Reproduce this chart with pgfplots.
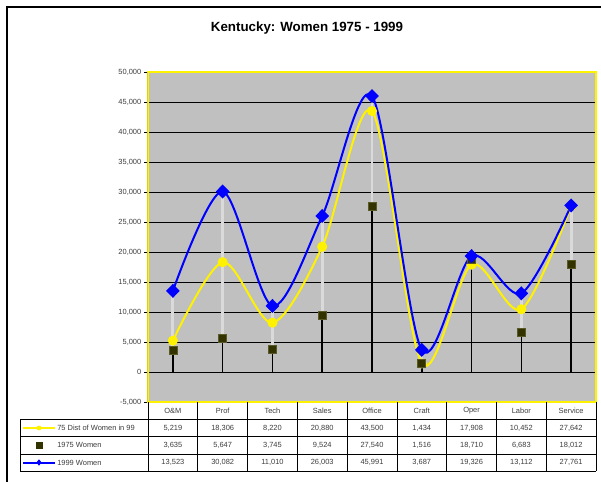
\documentclass[border=0pt]{standalone}
\usepackage{fontspec}
\setmainfont{Liberation Sans}
\usepackage{pgfplots}
\pgfplotsset{compat=1.18}
\definecolor{plotbg}{RGB}{192,192,192}
\definecolor{sqcol}{RGB}{51,51,0}
\definecolor{sqedge}{RGB}{90,90,40}
\definecolor{hlgray}{RGB}{218,218,218}
\definecolor{txtgray}{RGB}{60,60,60}
\begin{document}
\begin{tikzpicture}
\useasboundingbox (0,0) rectangle (450.75pt,-361.5pt);
\begin{axis}[
  at={(111pt,-301.5pt)}, anchor=south west,
  scale only axis, width=336pt, height=247.5pt,
  xmin=-0.5, xmax=8.5, ymin=-5000, ymax=50000,
  xtick=\empty,
  ytick distance=5000,
  ytick pos=left,
  tick align=outside,
  major tick length=3pt,
  tick style={black, line width=0.6pt},
  ymajorgrids, major grid style={black, line width=0.6pt},
  axis background/.style={fill=plotbg},
  axis line style={draw=yellow, line width=1.8pt},
  scaled y ticks=false,
  /pgf/number format/fixed,
  /pgf/number format/1000 sep={,},
  /pgf/number format/assume math mode=true,
  yticklabel style={font=\fontsize{5.6}{6}\selectfont, text=txtgray, xshift=1.5pt},
]
% drop lines (axis to highest value)
\addplot[ycomb, black, line width=1.2pt, forget plot] coordinates {
  (0,13523) (1,30082) (2,11010) (3,26003) (4,45991) (5,3687) (6,19326) (7,13112) (8,27761)};
% high-low lines
\addplot[draw=hlgray, line width=2.2pt, unbounded coords=jump, forget plot] coordinates {
  (0,3635) (0,13523) (0,nan)
  (1,5647) (1,30082) (1,nan)
  (2,3745) (2,11010) (2,nan)
  (3,9524) (3,26003) (3,nan)
  (4,27540) (4,45991) (4,nan)
  (5,1434) (5,3687) (5,nan)
  (6,17908) (6,19326) (6,nan)
  (7,6683) (7,13112) (7,nan)
  (8,18012) (8,27761)};
% 75 Dist of Women in 99
\addplot[yellow, line width=1.5pt, smooth, tension=0.5, mark=*, mark size=3pt, mark options={fill=yellow, draw=yellow}] coordinates {
  (0,5219) (1,18306) (2,8220) (3,20880) (4,43500) (5,1434) (6,17908) (7,10452) (8,27642)};
% 1975 Women
\addplot[only marks, mark=square*, mark size=3pt, mark options={fill=sqcol, draw=sqedge, line width=0.5pt}] coordinates {
  (0,3635) (1,5647) (2,3745) (3,9524) (4,27540) (5,1516) (6,18710) (7,6683) (8,18012)};
% 1999 Women
\addplot[blue, line width=1.5pt, smooth, tension=0.5, mark=diamond*, mark size=4.2pt, mark options={fill=blue, draw=blue, xscale=1.3}] coordinates {
  (0,13523) (1,30082) (2,11010) (3,26003) (4,45991) (5,3687) (6,19326) (7,13112) (8,27761)};
\draw[black, line width=0.8pt] ([xshift=-0.6pt]rel axis cs:0,0) -- ([xshift=-0.6pt]rel axis cs:0,1);
\end{axis}
\begin{scope}[x=0.75pt, y=-0.75pt]
  % outer frame
  \draw[black, line width=1.5pt] (7,482) -- (7,7) -- (601,7);
  % title
  \node[font=\bfseries\fontsize{10}{12}\selectfont] at (307,28) {Kentucky: Women 1975 - 1999};
  % data table grid
  \foreach \yy in {419.3,436.6,453.9,471.2} {\draw[black, line width=0.6pt] (20,\yy) -- (596,\yy);}
  \draw[black, line width=0.6pt] (20,419.3) -- (20,471.2);
  \foreach \k in {0,...,9} {\draw[black, line width=0.6pt] ({148+49.78*\k},402) -- ({148+49.78*\k},471.2);}
  % header
  \foreach \lab [count=\i from 0] in {O\&M,Prof,Tech,Sales,Office,Craft,Oper,Labor,Service}
    {\node[font=\fontsize{5.6}{6}\selectfont, text=txtgray] at ({148+49.78*(\i+0.5)},410.6) {\lab};}
  \foreach \v [count=\i from 0] in {5{,}219,18{,}306,8{,}220,20{,}880,43{,}500,1{,}434,17{,}908,10{,}452,27{,}642}
    {\node[font=\fontsize{5.6}{6}\selectfont, text=txtgray] at ({148+49.78*(\i+0.5)},428) {\v};}
  \foreach \v [count=\i from 0] in {3{,}635,5{,}647,3{,}745,9{,}524,27{,}540,1{,}516,18{,}710,6{,}683,18{,}012}
    {\node[font=\fontsize{5.6}{6}\selectfont, text=txtgray] at ({148+49.78*(\i+0.5)},445.2) {\v};}
  \foreach \v [count=\i from 0] in {13{,}523,30{,}082,11{,}010,26{,}003,45{,}991,3{,}687,19{,}326,13{,}112,27{,}761}
    {\node[font=\fontsize{5.6}{6}\selectfont, text=txtgray] at ({148+49.78*(\i+0.5)},462.5) {\v};}
  % legend keys
  \draw[yellow, line width=1.5pt] (23,428) -- (55,428);
  \fill[yellow] (39,428) circle (2.4);
  \fill[sqcol] (35.5,441.7) rectangle (42.5,448.7);
  \draw[blue, line width=1.5pt] (23,462.5) -- (55,462.5);
  \fill[blue] (39,459.3) -- (41.6,462.5) -- (39,465.7) -- (36.4,462.5) -- cycle;
  \node[font=\fontsize{5.6}{6}\selectfont, text=txtgray, anchor=west, inner sep=0pt] at (57,428) {75 Dist of Women in 99};
  \node[font=\fontsize{5.6}{6}\selectfont, text=txtgray, anchor=west, inner sep=0pt] at (57,445.2) {1975 Women};
  \node[font=\fontsize{5.6}{6}\selectfont, text=txtgray, anchor=west, inner sep=0pt] at (57,462.5) {1999 Women};
\end{scope}
\end{tikzpicture}
\end{document}
